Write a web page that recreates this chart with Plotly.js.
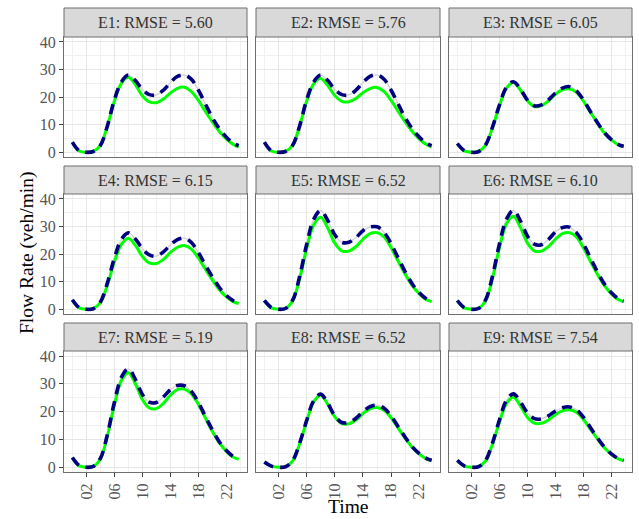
<!DOCTYPE html>
<html>
<head>
<meta charset="utf-8">
<script src="https://cdn.plot.ly/plotly-3.0.1.min.js"></script>
<style>html,body{margin:0;padding:0;background:#fff}#chart{width:639px;height:519px}</style>
</head>
<body>
<div id="chart"></div>
<script>
// ---- data ----
const hours = [0,1,2,3,4,5,6,7,8,9,10,11,12,13,14,15,16,17,18,19,20,21,22,23,23.75];
const panelTitles = ['E1: RMSE = 5.60','E2: RMSE = 5.76','E3: RMSE = 6.05','E4: RMSE = 6.15','E5: RMSE = 6.52','E6: RMSE = 6.10','E7: RMSE = 5.19','E8: RMSE = 6.52','E9: RMSE = 7.54'];
const xTickVals = [2,6,10,14,18,22];
const xTickText = ['02','06','10','14','18','22'];
const yTickVals = [0,10,20,30,40];

const obsE1 = [3.7,0.5,0,0.3,2.5,9.5,19,25.5,28,26,22.8,20.9,20.8,22.5,25.3,27.5,28,26.5,22.5,17.5,12.5,8.5,5.5,3.3,2.4];
const predE1 = [3.5,0.5,0,0.3,2.5,9.5,18.5,25,27.2,24.5,20.5,18.3,18,19.3,21.5,23.2,23.6,22,18.8,14.8,11,7.5,4.8,2.8,1.9];
const obsE2 = [3.7,0.5,0,0.3,2.5,9.5,19,25.5,28,26,22.8,20.9,20.8,22.5,25.3,27.5,28,26.5,22.5,17.5,12.5,8.5,5.5,3.3,2.4];
const predE2 = [3.5,0.5,0,0.3,2.5,9.5,18.5,24.8,26.8,24.2,20.6,18.5,18.3,19.5,21.6,23.1,23.5,22,18.8,14.8,11,7.5,4.8,2.8,1.9];
const obsE3 = [3.2,0.6,0,0.2,2.5,9,17,23.5,25.6,23,19,16.9,17.2,19,21.5,23.3,23.8,22.3,19,14.8,10.8,7.2,4.6,2.8,2.2];
const predE3 = [3.1,0.5,0,0.3,2.4,8.8,16.8,23.2,25.3,22.6,18.7,16.6,16.9,18.6,21,22.6,23,21.7,18.6,14.5,10.6,7,4.5,2.7,2.1];
const obsE4 = [3.5,0.6,0,0.2,2.6,9.5,18.5,25.3,27.7,25.5,22,19.7,19.3,20.8,23.3,25.3,25.8,24.2,20.6,16,11.7,7.9,5,3.1,2.4];
const predE4 = [3.3,0.5,0,0.3,2.4,8.8,17.2,23.5,25.8,23.2,19.2,16.8,16.6,18.1,20.6,22.5,23.1,21.8,18.6,14.5,10.6,7.1,4.5,2.7,2.1];
const obsE5 = [3.2,0.6,0,0.3,3.2,11.8,23.5,32.6,35.8,32.2,27,24.3,24.3,26,28.5,29.8,29.9,27.9,23.8,18.6,13.6,9.2,6,3.8,3];
const predE5 = [3.1,0.5,0,0.3,3,11,22,30.6,33.4,29.5,24,21.2,21.1,22.7,25.4,27.4,27.8,26.2,22.3,17.4,12.7,8.6,5.6,3.5,2.8];
const obsE6 = [3.2,0.6,0,0.3,3.2,11.8,23.5,32.6,35.9,32.1,26.6,23.6,23.4,25.3,28,29.6,29.8,27.8,23.8,18.6,13.6,9.2,6,3.8,3];
const predE6 = [3.1,0.5,0,0.3,3,11,22.2,30.9,33.7,29.7,24.1,21.2,21.1,22.7,25.4,27.4,27.8,26.2,22.3,17.4,12.7,8.6,5.6,3.5,2.8];
const obsE7 = [3.5,0.6,0,0.3,3.2,11.7,23.3,32.3,35.4,31.6,26.2,23.4,23.3,25.3,27.9,29.4,29.3,27.3,23.3,18.3,13.4,9.1,6,3.8,3];
const predE7 = [3.4,0.5,0,0.3,3,11.2,22.4,31.1,34,30,24.4,21.3,21.1,23,25.9,27.9,28.1,26.4,22.6,17.7,12.9,8.8,5.7,3.6,2.9];
const obsE8 = [1.9,0.4,0,0.2,2.3,8.6,16.8,23.9,26.3,23,18.5,16.1,16.1,17.6,20,21.8,22.3,21.2,18.4,14.6,10.8,7.4,4.9,3.2,2.5];
const predE8 = [1.8,0.4,0,0.2,2.2,8.4,16.5,23.5,25.9,22.6,18.1,15.7,15.6,17,19.3,21,21.5,20.5,17.8,14.1,10.4,7.1,4.7,3,2.4];
const obsE9 = [2.5,0.5,0,0.2,2.3,8.6,16.9,24,26.4,23.5,19.6,17.5,17.4,18.5,20.2,21.4,21.7,20.7,18,14.3,10.6,7.3,4.8,3.1,2.5];
const predE9 = [2.4,0.4,0,0.2,2.2,8.2,16.1,22.9,25.2,22.1,18,15.9,15.8,17,18.9,20.3,20.7,19.8,17.2,13.7,10.2,7,4.6,3,2.4];

const observed = [obsE1,obsE2,obsE3,obsE4,obsE5,obsE6,obsE7,obsE8,obsE9];
const predicted = [predE1,predE2,predE3,predE4,predE5,predE6,predE7,predE8,predE9];

// ---- layout geometry (pixels in a 639x519 page) ----
const W = 639, H = 519;
const cols = [[64,247],[256,440],[449,632]];
const rows = [{strip:[8,37], plot:[37,157]},{strip:[166,194], plot:[194,314]},{strip:[323,351], plot:[351,472]}];
const FONT = 'Liberation Serif, Times New Roman, serif';
const BORDER = '#6E6E6E';

const traces = [];
const layout = {
  width: W, height: H,
  margin: {l:0, r:0, t:0, b:0},
  paper_bgcolor: '#ffffff', plot_bgcolor: '#ffffff',
  showlegend: false,
  shapes: [], annotations: [],
  font: {family: FONT}
};

for (let i = 0; i < 9; i++) {
  const r = Math.floor(i / 3), c = i % 3;
  const sfx = i === 0 ? '' : String(i + 1);
  const xa = 'x' + sfx, ya = 'y' + sfx;
  const xd = [cols[c][0] / W, cols[c][1] / W];
  const yd = [(H - rows[r].plot[1]) / H, (H - rows[r].plot[0]) / H];

  layout['xaxis' + sfx] = {
    domain: xd, anchor: ya, range: [-1.19, 24.94],
    tickmode: 'array', tickvals: xTickVals, ticktext: xTickText,
    showticklabels: r === 2, ticks: r === 2 ? 'outside' : '', ticklen: 4, tickwidth: 1, tickcolor: '#444444',
    tickangle: -90, tickfont: {family: FONT, size: 16, color: '#555555'},
    showgrid: true, gridcolor: '#E6E6E6', gridwidth: 1,
    minor: {tickmode: 'array', tickvals: [0,4,8,12,16,20,24], showgrid: true, gridcolor: '#F1F1F1', gridwidth: 1, ticks: ''},
    zeroline: false, showline: true, mirror: true, linecolor: BORDER, linewidth: 1, fixedrange: true
  };
  layout['yaxis' + sfx] = {
    domain: yd, anchor: xa, range: [-1.7, 41.8],
    tickmode: 'array', tickvals: yTickVals,
    showticklabels: c === 0, ticks: c === 0 ? 'outside' : '', ticklen: 4, tickwidth: 1, tickcolor: '#444444',
    tickfont: {family: FONT, size: 16, color: '#555555'},
    showgrid: true, gridcolor: '#E6E6E6', gridwidth: 1,
    minor: {tickmode: 'array', tickvals: [5,15,25,35], showgrid: true, gridcolor: '#F1F1F1', gridwidth: 1, ticks: ''},
    zeroline: false, showline: true, mirror: true, linecolor: BORDER, linewidth: 1, fixedrange: true
  };

  // strip
  layout.shapes.push({
    type: 'rect', xref: 'paper', yref: 'paper',
    x0: xd[0], x1: xd[1], y0: (H - rows[r].strip[1]) / H, y1: (H - rows[r].strip[0]) / H,
    fillcolor: '#D9D9D9', line: {color: BORDER, width: 1}, layer: 'above'
  });
  layout.annotations.push({
    xref: 'paper', yref: 'paper', showarrow: false,
    x: (xd[0] + xd[1]) / 2, y: (H - (rows[r].strip[0] + rows[r].strip[1]) / 2) / H,
    xanchor: 'center', yanchor: 'middle',
    text: panelTitles[i], font: {family: FONT, size: 16, color: '#333333'}
  });

  traces.push({x: hours, y: observed[i], xaxis: xa, yaxis: ya, type: 'scatter', mode: 'lines',
    line: {color: '#D0D0D0', width: 1.2, shape: 'spline', smoothing: 1}, hoverinfo: 'skip'});
  traces.push({x: hours, y: predicted[i], xaxis: xa, yaxis: ya, type: 'scatter', mode: 'lines',
    line: {color: '#00FF00', width: 3, shape: 'spline', smoothing: 1}, hoverinfo: 'skip'});
  traces.push({x: hours, y: observed[i], xaxis: xa, yaxis: ya, type: 'scatter', mode: 'lines',
    line: {color: '#000080', width: 3.6, dash: '10px,7px', shape: 'spline', smoothing: 1}, hoverinfo: 'skip'});
}

// axis titles
layout.annotations.push({
  xref: 'paper', yref: 'paper', showarrow: false,
  x: 348 / W, y: (H - 506) / H, xanchor: 'center', yanchor: 'middle',
  text: 'Time', font: {family: FONT, size: 19.5, color: '#000000'}
});
layout.annotations.push({
  xref: 'paper', yref: 'paper', showarrow: false,
  x: 27 / W, y: (H - 253) / H, xanchor: 'center', yanchor: 'middle', textangle: -90,
  text: 'Flow Rate (veh/min)', font: {family: FONT, size: 19.5, color: '#000000'}
});

Plotly.newPlot('chart', traces, layout, {staticPlot: true, displayModeBar: false});
</script>
</body>
</html>
